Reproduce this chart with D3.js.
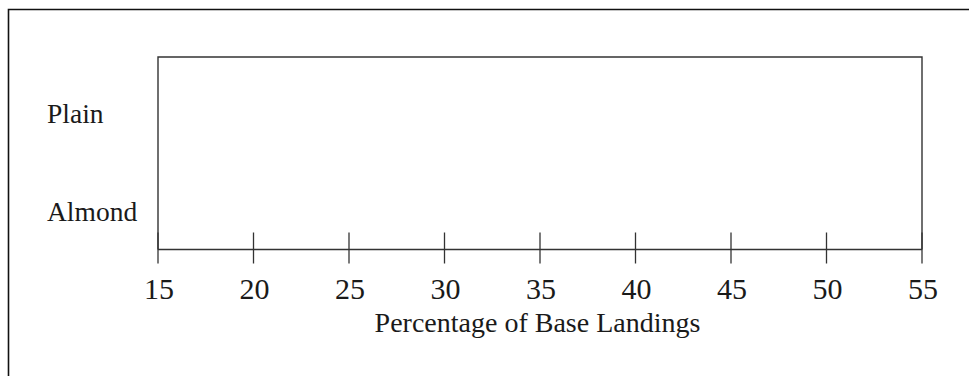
<!DOCTYPE html>
<html>
<head>
<meta charset="utf-8">
<script src="https://cdn.jsdelivr.net/npm/d3@7"></script>
<style>
  html, body { margin: 0; padding: 0; background: #fff; }
  svg { display: block; }
  text { font-family: "Liberation Serif", "DejaVu Serif", serif; fill: #1a1a1a; }
</style>
</head>
<body>
<svg id="chart" width="969" height="376"></svg>
<script>
// ---- data ----
const categories = ["Plain", "Almond"];
const plainValues = [];   // no points are shown in the reference
const almondValues = [];
const xTicks = [15, 20, 25, 30, 35, 40, 45, 50, 55];
const xDomain = [15, 55];
const xTitle = "Percentage of Base Landings";

// ---- layout ----
const W = 969, H = 376;
const plot = { left: 158, right: 922, top: 57, bottom: 249.5 };

const svg = d3.select("#chart");

// outer frame (top and left edges visible)
svg.append("path")
  .attr("d", `M8.5,${H} V9.5 H${W}`)
  .attr("fill", "none")
  .attr("stroke", "#111")
  .attr("stroke-width", 1.6);

const x = d3.scaleLinear().domain(xDomain).range([plot.left, plot.right]);
const y = d3.scalePoint().domain(categories).range([plot.top + 57, plot.bottom - 38]);

// plot box (left, top, right)
svg.append("path")
  .attr("d", `M${plot.left},${plot.bottom} V${plot.top} H${plot.right} V${plot.bottom}`)
  .attr("fill", "none")
  .attr("stroke", "#333")
  .attr("stroke-width", 1.4);

// axis line
svg.append("line")
  .attr("x1", x(xDomain[0])).attr("x2", x(xDomain[1]))
  .attr("y1", plot.bottom).attr("y2", plot.bottom)
  .attr("stroke", "#333").attr("stroke-width", 1.3);

// ticks crossing the axis
svg.selectAll("line.tick").data(xTicks).join("line")
  .attr("class", "tick")
  .attr("x1", d => x(d)).attr("x2", d => x(d))
  .attr("y1", plot.bottom - 17).attr("y2", plot.bottom + 14)
  .attr("stroke", "#333").attr("stroke-width", 1.3);

// tick labels
svg.selectAll("text.tl").data(xTicks).join("text")
  .attr("class", "tl")
  .attr("x", d => x(d) + 1)
  .attr("y", 299)
  .attr("text-anchor", "middle")
  .attr("font-size", 30)
  .text(d => d);

// axis title
svg.append("text")
  .attr("x", 537.5)
  .attr("y", 332)
  .attr("text-anchor", "middle")
  .attr("font-size", 28)
  .text(xTitle);

// category labels
svg.selectAll("text.cat").data(categories).join("text")
  .attr("class", "cat")
  .attr("x", 47)
  .attr("y", d => y(d))
  .attr("dy", "0.33em")
  .attr("font-size", 27.5)
  .text(d => d);

// points (none in reference)
const series = [
  { cat: "Plain", values: plainValues },
  { cat: "Almond", values: almondValues }
];
series.forEach(s => {
  svg.selectAll(null).data(s.values).join("circle")
    .attr("cx", d => x(d)).attr("cy", y(s.cat)).attr("r", 5).attr("fill", "#111");
});
</script>
</body>
</html>
